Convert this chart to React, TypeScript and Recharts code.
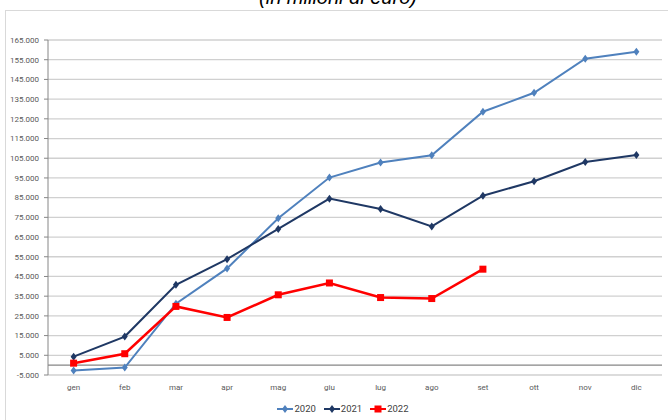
import { LineChart, Line, XAxis, YAxis, CartesianGrid, ReferenceLine } from 'recharts';

const MONTHS = ['gen', 'feb', 'mar', 'apr', 'mag', 'giu', 'lug', 'ago', 'set', 'ott', 'nov', 'dic'];
const Y2020 = [-2700, -1200, 31200, 49100, 74500, 95200, 102800, 106500, 128600, 138200, 155500, 159000];
const Y2021 = [4300, 14500, 40800, 53800, 69100, 84500, 79200, 70400, 86000, 93300, 103100, 106700];
const Y2022 = [1000, 5800, 29800, 24200, 35700, 41700, 34300, 33800, 48700, null, null, null];
const Y_TICKS = [-5000, 5000, 15000, 25000, 35000, 45000, 55000, 65000, 75000, 85000, 95000, 105000, 115000, 125000, 135000, 145000, 155000, 165000];

const SERIES = [
  { key: '2020', color: '#4F81BD', shape: 'diamond' },
  { key: '2021', color: '#1F3864', shape: 'diamond' },
  { key: '2022', color: '#FF0000', shape: 'square' },
];

const data = MONTHS.map((m, i) => ({ month: m, '2020': Y2020[i], '2021': Y2021[i], '2022': Y2022[i] }));

const fmt = (v: number) => {
  const s = Math.abs(v).toString().replace(/\B(?=(\d{3})+(?!\d))/g, '.');
  return v < 0 ? '-' + s : s;
};

const FONT = 'Roboto, "Noto Sans", sans-serif';

function Diamond(props: any) {
  const { cx, cy, stroke, index } = props;
  if (cx == null || cy == null) return <g key={index} />;
  return <path key={index} d={`M${cx},${cy - 4}L${cx + 3},${cy}L${cx},${cy + 4}L${cx - 3},${cy}Z`} fill={stroke} />;
}

function Square(props: any) {
  const { cx, cy, stroke, index } = props;
  if (cx == null || cy == null) return <g key={index} />;
  return <rect key={index} x={cx - 3.5} y={cy - 3.5} width={7} height={7} fill={stroke} />;
}

function LegendBox() {
  return (
    <div style={{ display: 'flex', justifyContent: 'center', gap: 8, fontFamily: FONT, fontSize: 9.5, color: '#404040', paddingLeft: 18 }}>
      {SERIES.map((s) => (
        <div key={s.key} style={{ display: 'flex', alignItems: 'center' }}>
          <svg width={16} height={8}>
            <line x1={0} y1={4} x2={16} y2={4} stroke={s.color} strokeWidth={2} />
            {s.shape === 'square' ? (
              <rect x={4.5} y={0.5} width={7} height={7} fill={s.color} />
            ) : (
              <path d="M8,0L11,4L8,8L5,4Z" fill={s.color} />
            )}
          </svg>
          <span style={{ marginLeft: 1 }}>{s.key}</span>
        </div>
      ))}
    </div>
  );
}

export default function App() {
  return (
    <div style={{ position: 'absolute', left: 0, top: 0, width: 668, height: 420, overflow: 'hidden', background: '#fff' }}>
      <div style={{ position: 'absolute', left: 5, top: 10, width: 700, height: 440, border: '1px solid #d9d9d9' }} />
      <svg style={{ position: 'absolute', left: 0, top: 0 }} width={668} height={12}>
        <text x={338} y={4} textAnchor="middle" fontFamily="'Liberation Sans', Arial, sans-serif" fontStyle="italic" fontSize={20} fill="#000">
          (in milioni di euro)
        </text>
      </svg>
      <div style={{ position: 'absolute', left: 0, top: 0 }}>
        <LineChart width={668} height={420} data={data} margin={{ top: 40, right: 6, left: 0, bottom: 30 }}>
          <CartesianGrid vertical={false} stroke="#d0d0d0" strokeWidth={1.3} />
          <XAxis
            dataKey="month"
            axisLine={false}
            tickLine={false}
            tickMargin={3}
            height={15}
            padding={{ left: 25.6, right: 25.6 }}
            tick={{ fontSize: 8, fill: '#595959', fontFamily: FONT }}
            interval={0}
          />
          <YAxis
            type="number"
            domain={[-5000, 165000]}
            ticks={Y_TICKS}
            tickFormatter={fmt}
            width={48}
            tickSize={4}
            tickMargin={5}
            axisLine={{ stroke: '#868686' }}
            tickLine={{ stroke: '#868686' }}
            tick={{ fontSize: 8, fill: '#595959', fontFamily: FONT }}
            interval={0}
          />
          <ReferenceLine y={0} stroke="#868686" strokeWidth={1.3} />
          {SERIES.map((s) => (
            <Line
              key={s.key}
              dataKey={s.key}
              stroke={s.color}
              strokeWidth={s.shape === 'square' ? 2.5 : 2}
              dot={s.shape === 'square' ? Square : Diamond}
              activeDot={false}
              isAnimationActive={false}
            />
          ))}
        </LineChart>
      </div>
      <div style={{ position: 'absolute', left: 0, top: 403, width: 668 }}>
        <LegendBox />
      </div>
    </div>
  );
}
